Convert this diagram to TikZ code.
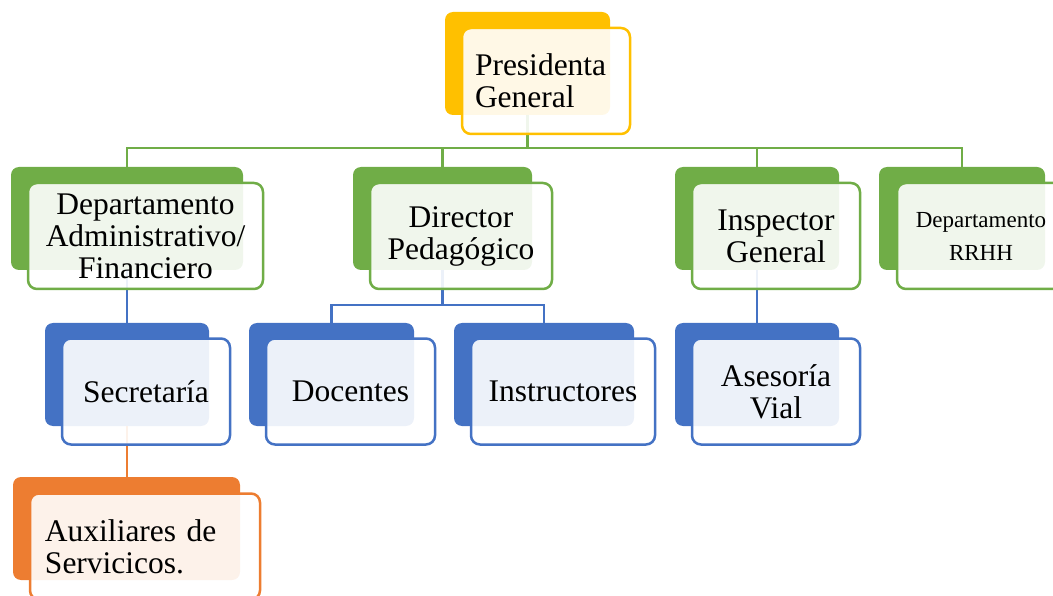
\documentclass[tikz,border=0pt]{standalone}
\usepackage{fontspec}
\setmainfont{Liberation Serif}
\definecolor{ocYellow}{HTML}{FFC000}
\definecolor{ocGreen}{HTML}{70AD47}
\definecolor{ocBlue}{HTML}{4472C4}
\definecolor{ocOrange}{HTML}{ED7D31}

\begin{document}
\begin{tikzpicture}[x=1pt, y=-1pt,
    backbox/.style={rectangle, rounded corners=8pt, fill=#1, draw=none, inner sep=0pt, minimum height=103pt},
    frontbox/.style={rectangle, rounded corners=9pt, draw=#1, line width=2.5pt, fill=white, fill opacity=0.9, text opacity=1, inner sep=0pt, minimum height=106pt, align=center, font=\fontsize{31.5}{32}\selectfont},
    link/.style={line width=2.3pt, draw=#1}]
    \clip (0,0) rectangle (1053,596);

    \node[backbox=ocYellow, minimum width=165pt] (pres) at (527.5,63.5) {};
    \node[backbox=ocGreen, minimum width=232pt] (admin) at (127,218.5) {};
    \node[backbox=ocGreen, minimum width=179pt] (dir) at (442.5,218.5) {};
    \node[backbox=ocGreen, minimum width=164pt] (insp) at (757,218.5) {};
    \node[backbox=ocGreen, minimum width=166pt] (rrhh) at (962,218.5) {};
    \node[backbox=ocBlue, minimum width=164pt] (sec) at (127,374.5) {};
    \node[backbox=ocBlue, minimum width=165pt] (doc) at (331.5,374.5) {};
    \node[backbox=ocBlue, minimum width=180pt] (inst) at (544,374.5) {};
    \node[backbox=ocBlue, minimum width=164pt] (ases) at (757,374.5) {};
    \node[backbox=ocOrange, minimum width=227pt] (aux) at (126.5,528.5) {};

    \draw[link=ocGreen] (pres.south) -- ++(0,33) -| (admin.north);
    \draw[link=ocGreen] (pres.south) -- ++(0,33) -| (dir.north);
    \draw[link=ocGreen] (pres.south) -- ++(0,33) -| (insp.north);
    \draw[link=ocGreen] (pres.south) -- ++(0,33) -| (rrhh.north);
    \draw[link=ocBlue] (admin.south) -- (sec.north);
    \draw[link=ocBlue] (dir.south) -- ++(0,35) -| (doc.north);
    \draw[link=ocBlue] (dir.south) -- ++(0,35) -| (inst.north);
    \draw[link=ocBlue] (insp.south) -- (ases.north);
    \draw[link=ocOrange] (sec.south) -- (sec.south |- aux.north);

    \node[frontbox=ocYellow, align=left, inner xsep=13pt, text width=142pt] (pres-f) at (546,81) {Presidenta\\General};
    \node[frontbox=ocGreen, minimum width=235pt] (admin-f) at (145.5,236) {Departamento\\Administrativo/\\Financiero};
    \node[frontbox=ocGreen, minimum width=182pt] (dir-f) at (461,236) {Director\\Pedagógico};
    \node[frontbox=ocGreen, minimum width=168pt] (insp-f) at (776,236) {Inspector\\General};
    \node[frontbox=ocGreen, minimum width=168pt, font=\fontsize{23}{33}\selectfont] (rrhh-f) at (981,236) {Departamento\\RRHH};
    \node[frontbox=ocBlue, minimum width=168pt] (sec-f) at (146,391.5) {Secretaría};
    \node[frontbox=ocBlue, minimum width=169pt] (doc-f) at (350.5,391.5) {Docentes};
    \node[frontbox=ocBlue, minimum width=184pt] (inst-f) at (563,391.5) {Instructores};
    \node[frontbox=ocBlue, minimum width=168pt] (ases-f) at (776,391.5) {Asesoría\\Vial};
    \node[frontbox=ocOrange, align=left, inner xsep=15pt, text width=200pt] (aux-f) at (145,546.5) {Auxiliares de\\Servicicos.};
\end{tikzpicture}
\end{document}
